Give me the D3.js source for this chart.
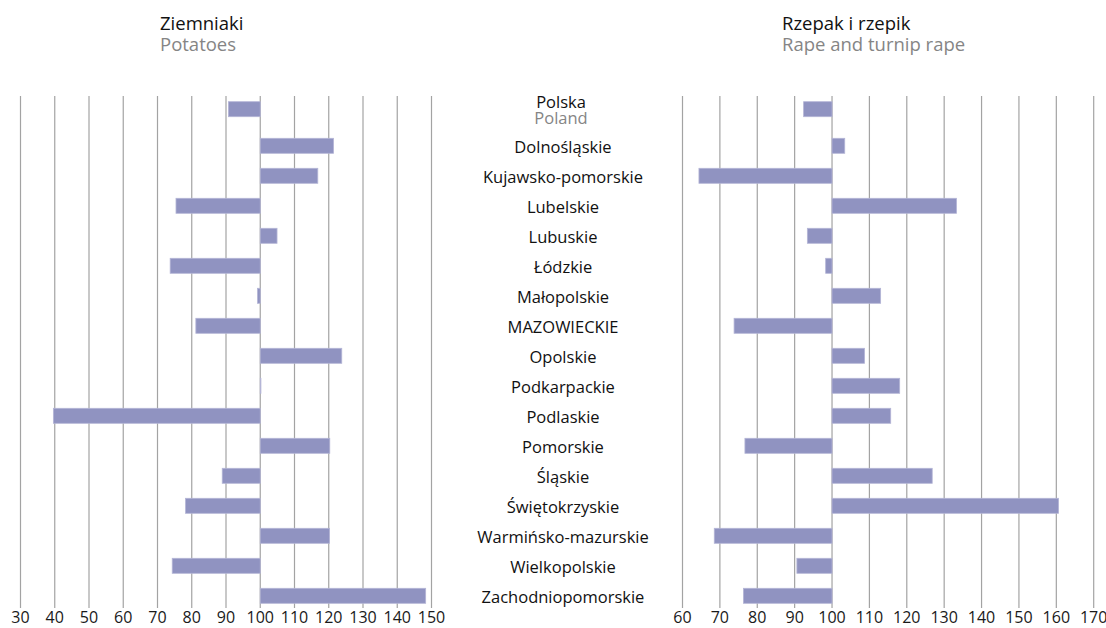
<!DOCTYPE html>
<html>
<head>
<meta charset="utf-8">
<script src="https://cdn.jsdelivr.net/npm/d3@7"></script>
<style>
  body { margin: 0; background: #fff; }
  svg text { font-family: "Open Sans", "Noto Sans", sans-serif; }
</style>
</head>
<body>
<div id="graf"></div>
<script>
// Datos: indices, rok poprzedni = 100
const wojewodztwa = ["Dolnośląskie", "Kujawsko-pomorskie", "Lubelskie", "Lubuskie", "Łódzkie",
  "Małopolskie", "MAZOWIECKIE", "Opolskie", "Podkarpackie", "Podlaskie", "Pomorskie",
  "Śląskie", "Świętokrzyskie", "Warmińsko-mazurskie", "Wielkopolskie", "Zachodniopomorskie"];
const polskaZiemniaki = 90.7;
const polskaRzepak = 92.4;
const ziemniaki = [121.4, 116.8, 75.4, 104.9, 73.7, 99.2, 81.2, 123.8, 100.2, 39.6, 120.3,
  88.9, 78.2, 120.2, 74.3, 148.3];
const rzepak = [103.4, 64.4, 133.3, 93.4, 98.3, 113.0, 73.8, 108.7, 118.1, 115.7, 76.7,
  126.8, 160.6, 68.5, 90.6, 76.3];
const ticksZiemniaki = [30, 40, 50, 60, 70, 80, 90, 100, 110, 120, 130, 140, 150];
const ticksRzepak = [60, 70, 80, 90, 100, 110, 120, 130, 140, 150, 160, 170];

const anchoTotal = 1106, altoTotal = 628;
const svg = d3.select("#graf").append("svg")
  .attr("width", anchoTotal).attr("height", altoTotal);

// escala vertical: indice de fila -> centro de barra (Polska un poco separada)
const y = d3.scaleLinear().domain([0, wojewodztwa.length - 1]).range([145.8, 595.8]);
const polskaIdx = -1.22;
const altoBarra = 15;
const gridTop = 96, gridBottom = 608;

function panel(xScale, ticks, valores, polska, titulo, subtitulo, tituloX) {
  const g = svg.append("g");

  // lineas de grilla
  g.selectAll("line.grid").data(ticks).enter().append("line")
    .attr("x1", d => xScale(d)).attr("x2", d => xScale(d))
    .attr("y1", gridTop).attr("y2", gridBottom)
    .attr("stroke", "#a3a3a3").attr("stroke-width", 1.2);

  // etiquetas del eje
  g.selectAll("text.tick").data(ticks).enter().append("text")
    .attr("x", d => xScale(d)).attr("y", 623)
    .attr("text-anchor", "middle")
    .attr("font-size", 16).attr("fill", "#1a1a1a")
    .text(d => d);

  const filas = [{ idx: polskaIdx, v: polska }]
    .concat(valores.map((v, i) => ({ idx: i, v: v })));

  g.selectAll("rect").data(filas).enter().append("rect")
    .attr("x", d => xScale(Math.min(d.v, 100)))
    .attr("width", d => Math.abs(xScale(d.v) - xScale(100)))
    .attr("y", d => y(d.idx) - altoBarra / 2)
    .attr("height", altoBarra)
    .attr("fill", "#9093c1")
    .attr("stroke", "#b4b5d6").attr("stroke-width", 0.8);

  g.append("text").attr("x", tituloX).attr("y", 30)
    .attr("font-size", 18.5).attr("fill", "#111").text(titulo);
  g.append("text").attr("x", tituloX).attr("y", 51)
    .attr("font-size", 18.5).attr("fill", "#858585").text(subtitulo);
}

const xZ = d3.scaleLinear().domain([30, 150]).range([20.5, 431.5]);
const xR = d3.scaleLinear().domain([60, 170]).range([682.5, 1093.7]);

panel(xZ, ticksZiemniaki, ziemniaki, polskaZiemniaki, "Ziemniaki", "Potatoes", 160);
panel(xR, ticksRzepak, rzepak, polskaRzepak, "Rzepak i rzepik", "Rape and turnip rape", 782);

// nombres de las regiones al centro
const cx = 563;
svg.selectAll("text.region").data(wojewodztwa).enter().append("text")
  .attr("x", cx).attr("y", (d, i) => y(i) + 7)
  .attr("text-anchor", "middle")
  .attr("font-size", 16.5).attr("fill", "#111")
  .text(d => d);

svg.append("text").attr("x", 561).attr("y", y(polskaIdx) - 1)
  .attr("text-anchor", "middle").attr("font-size", 16.5).attr("fill", "#111").text("Polska");
svg.append("text").attr("x", 561).attr("y", y(polskaIdx) + 15)
  .attr("text-anchor", "middle").attr("font-size", 16.5).attr("fill", "#858585").text("Poland");
</script>
</body>
</html>
